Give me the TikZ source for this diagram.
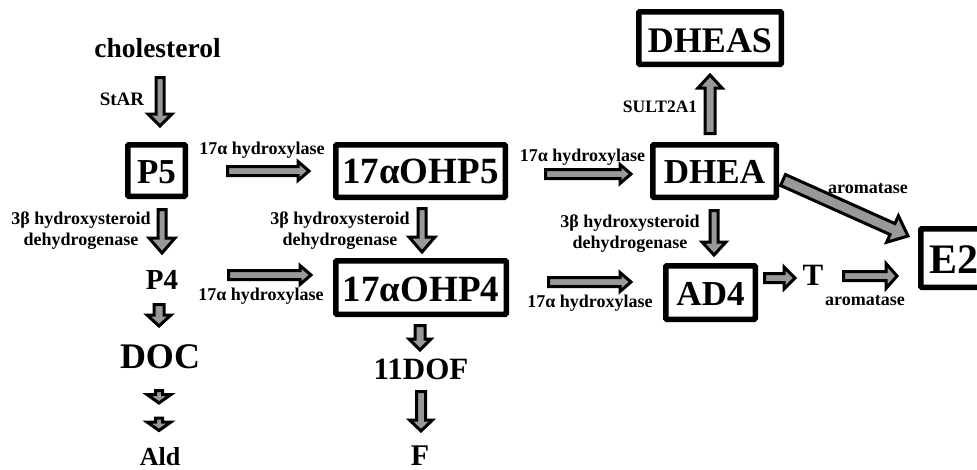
\documentclass[tikz,border=0pt]{standalone}
\usepackage{fontspec}
\setmainfont{Liberation Serif}
\usetikzlibrary{calc}
\tikzset{
  box/.style={draw, line width=5.5pt, rounded corners=1pt, inner sep=0pt, fill=white, text depth=0pt},
  lbl/.style={font=\bfseries\fontsize{18}{21}\selectfont, align=center, inner sep=0pt, anchor=base},
  mol/.style={inner sep=0pt, anchor=base},
  blockarrow/.style={draw=black, fill=black!40, line width=3pt, line join=miter}
}
% #1 start, #2 tip, #3 shaft half width, #4 head half width, #5 head length
\newcommand\barrow[5]{%
  \coordinate (hb) at ($(#2)!#5!(#1)$);
  \draw[blockarrow] ($(#1)!#3!90:(#2)$) -- ($(hb)!#3!90:(#2)$) -- ($(hb)!#4!90:(#2)$) -- (#2)
    -- ($(hb)!#4!-90:(#2)$) -- ($(hb)!#3!-90:(#2)$) -- ($(#1)!#3!-90:(#2)$) -- cycle;
}
\begin{document}
\begin{tikzpicture}[x=1pt,y=-1pt]
\useasboundingbox (0,0) rectangle (977,469);
\clip (0,0) rectangle (977,469);

% boxed molecules
\node[box, minimum width=57.5pt, minimum height=51.5pt, text height=25pt, font=\bfseries\fontsize{35}{40}\selectfont] (P5) at (156.5,170.5) {P5};
\node[box, minimum width=169.5pt, minimum height=52.5pt, text height=24pt, font=\bfseries\fontsize{37}{42}\selectfont] (OHP5) at (420.5,171) {17αOHP5};
\node[box, minimum width=170.5pt, minimum height=53.5pt, text height=27pt, font=\bfseries\fontsize{37}{42}\selectfont] (OHP4) at (421,287.5) {17αOHP4};
\node[box, minimum width=123.5pt, minimum height=52.5pt, text height=24pt, font=\bfseries\fontsize{35}{40}\selectfont] (DHEA) at (714.5,171) {DHEA};
\node[box, minimum width=142.5pt, minimum height=52.5pt, text height=28pt, font=\bfseries\fontsize{36}{40}\selectfont] (DHEAS) at (710,38) {DHEAS};
\node[box, minimum width=89.5pt, minimum height=53.5pt, text height=25pt, font=\bfseries\fontsize{35}{40}\selectfont] (AD4) at (710.5,292.5) {AD4};
\node[box, minimum width=65.5pt, minimum height=58.5pt, text height=30pt, font=\bfseries\fontsize{42}{46}\selectfont] (E2) at (953.5,258) {E2};

% plain molecules
\node[mol, font=\bfseries\fontsize{27.5}{30}\selectfont] (chol) at (157.5,57) {cholesterol};
\node[mol, font=\bfseries\fontsize{29}{32}\selectfont] (P4) at (162,289) {P4};
\node[mol, font=\bfseries\fontsize{36}{40}\selectfont] (DOC) at (160,368) {DOC};
\node[mol, font=\bfseries\fontsize{26}{30}\selectfont] (Ald) at (160,465) {Ald};
\node[mol, font=\bfseries\fontsize{31}{34}\selectfont] (DOF) at (421,379) {11DOF};
\node[mol, font=\bfseries\fontsize{30}{32}\selectfont] (F) at (420,465) {F};
\node[mol, font=\bfseries\fontsize{31}{34}\selectfont] (T) at (813,285) {T};

% enzyme labels
\node[lbl, font=\bfseries\fontsize{19}{22}\selectfont] (lStAR) at (122,105) {StAR};
\node[lbl] (lh1) at (262,154) {17α hydroxylase};
\node[lbl] (lh2) at (582.5,161) {17α hydroxylase};
\node[lbl] (lh3) at (261,300) {17α hydroxylase};
\node[lbl] (lh4) at (590,307) {17α hydroxylase};
\node[lbl] (ld1) at (81,245) {3β hydroxysteroid\\dehydrogenase};
\node[lbl] (ld2) at (340,245) {3β hydroxysteroid\\dehydrogenase};
\node[lbl] (ld3) at (630,248) {3β hydroxysteroid\\dehydrogenase};
\node[lbl, font=\bfseries\fontsize{17.5}{21}\selectfont] (lsult) at (660,112) {SULT2A1};
\node[lbl] (larom1) at (868,193) {aromatase};
\node[lbl] (larom2) at (865,305) {aromatase};

% arrow end points
\coordinate (a1s) at (160,77.5);   \coordinate (a1e) at (160,126);
\coordinate (a2s) at (162,209.5);  \coordinate (a2e) at (162,253);
\coordinate (a3s) at (422,208.5);  \coordinate (a3e) at (422,252);
\coordinate (a4s) at (714,210.5);  \coordinate (a4e) at (714,255);
\coordinate (a5s) at (710,133.5);  \coordinate (a5e) at (710,75);
\coordinate (a6s) at (227.5,171);  \coordinate (a6e) at (309,171);
\coordinate (a7s) at (545.5,174);  \coordinate (a7e) at (631,174);
\coordinate (a8s) at (228.5,275);  \coordinate (a8e) at (311,275);
\coordinate (a9s) at (548.5,282);  \coordinate (a9e) at (631,282);
\coordinate (a10s) at (764.5,278); \coordinate (a10e) at (795,278);
\coordinate (a11s) at (843.5,276); \coordinate (a11e) at (897,276);
\coordinate (a12s) at (783,180);   \coordinate (a12e) at (908,236);
\coordinate (a13s) at (159,304.5); \coordinate (a13e) at (159,326);
\coordinate (a14s) at (159,390.5); \coordinate (a14e) at (159,403);
\coordinate (a15s) at (159,418);   \coordinate (a15e) at (159,430.5);
\coordinate (a16s) at (420,325.5); \coordinate (a16e) at (420,350);
\coordinate (a17s) at (421,391.5); \coordinate (a17e) at (421,431);

\barrow{a1s}{a1e}{4pt}{12pt}{12pt}
\barrow{a2s}{a2e}{4pt}{13pt}{15pt}
\barrow{a3s}{a3e}{4pt}{13pt}{15pt}
\barrow{a4s}{a4e}{4pt}{12pt}{13pt}
\barrow{a5s}{a5e}{5pt}{12pt}{13pt}
\barrow{a6s}{a6e}{4.5pt}{9.5pt}{11pt}
\barrow{a7s}{a7e}{4.5pt}{9.5pt}{11pt}
\barrow{a8s}{a8e}{4.5pt}{9.5pt}{11pt}
\barrow{a9s}{a9e}{4.5pt}{9.5pt}{11pt}
\barrow{a10s}{a10e}{4.5pt}{11pt}{11pt}
\barrow{a11s}{a11e}{4.5pt}{12.5pt}{11pt}
\barrow{a12s}{a12e}{6pt}{14.5pt}{17pt}
\barrow{a13s}{a13e}{5pt}{12pt}{11pt}
\barrow{a14s}{a14e}{3.5pt}{12pt}{8.5pt}
\barrow{a15s}{a15e}{3.5pt}{12pt}{8.5pt}
\barrow{a16s}{a16e}{5pt}{11pt}{11pt}
\barrow{a17s}{a17e}{4.5pt}{11.5pt}{11pt}
\end{tikzpicture}
\end{document}
